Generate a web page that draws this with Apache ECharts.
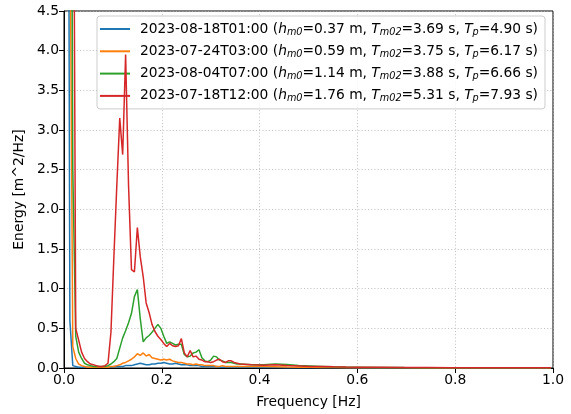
<!DOCTYPE html>
<html>
<head>
<meta charset="utf-8">
<script src="https://cdn.jsdelivr.net/npm/echarts@6/dist/echarts.min.js"></script>
<style>html,body{margin:0;padding:0;background:#fff}#c{width:571px;height:414px}</style>
</head>
<body>
<div id="c"></div>
<script>
// Frequencies [Hz] (0.006 Hz grid to 0.36 Hz, then sparser)
const freqs = [0.006,0.012,0.018,0.024,0.030,0.036,0.042,0.048,0.054,0.060,
  0.066,0.072,0.078,0.084,0.090,0.096,0.102,0.108,0.114,0.120,
  0.126,0.132,0.138,0.144,0.150,0.156,0.162,0.168,0.174,0.180,
  0.186,0.192,0.198,0.204,0.210,0.216,0.222,0.228,0.234,0.240,
  0.246,0.252,0.258,0.264,0.270,0.276,0.282,0.288,0.294,0.300,
  0.306,0.312,0.318,0.324,0.330,0.336,0.342,0.348,0.354,0.360,
  0.384,0.408,0.432,0.456,0.480,0.504,0.528,0.552,0.576,0.600,
  0.648,0.696,0.744,0.792,0.840,0.888,0.936,0.984,0.996];

const blueVals = [14,0.6,0.03,0.02,0.01,0.01,0.01,0.01,0.01,0.01,
  0.01,0.01,0.01,0.01,0.01,0.01,0.02,0.02,0.02,0.02,
  0.03,0.03,0.03,0.04,0.05,0.06,0.05,0.04,0.04,0.05,
  0.05,0.06,0.06,0.07,0.06,0.05,0.05,0.06,0.05,0.04,
  0.04,0.04,0.03,0.03,0.03,0.03,0.02,0.02,0.02,0.02,
  0.02,0.02,0.01,0.01,0.01,0.01,0.01,0.01,0.01,0.01,
  0.008,0.006,0.005,0.004,0.003,0.003,0.002,0.002,0.002,0.001,
  0.001,0.001,0.001,0.001,0.001,0.001,0.001,0.001,0.001];

const orangeVals = [20,6,0.27,0.12,0.05,0.03,0.02,0.01,0.01,0.01,
  0.01,0.01,0.01,0.01,0.01,0.02,0.02,0.03,0.04,0.06,
  0.07,0.09,0.11,0.14,0.18,0.16,0.19,0.15,0.17,0.13,
  0.12,0.11,0.10,0.11,0.10,0.11,0.09,0.08,0.07,0.07,
  0.06,0.05,0.05,0.04,0.05,0.04,0.04,0.03,0.03,0.03,
  0.03,0.02,0.02,0.03,0.02,0.02,0.02,0.02,0.02,0.02,
  0.02,0.018,0.015,0.012,0.010,0.008,0.006,0.005,0.004,0.003,
  0.002,0.002,0.001,0.001,0.001,0.001,0.001,0.001,0.001];

const greenVals = [20,12,2.5,0.4,0.2,0.12,0.06,0.04,0.03,0.02,
  0.02,0.02,0.02,0.02,0.03,0.05,0.08,0.12,0.25,0.38,
  0.47,0.57,0.69,0.90,0.99,0.62,0.33,0.38,0.41,0.45,
  0.50,0.55,0.50,0.40,0.31,0.33,0.31,0.29,0.30,0.30,
  0.17,0.14,0.15,0.19,0.20,0.23,0.13,0.09,0.08,0.10,
  0.15,0.14,0.10,0.09,0.07,0.07,0.07,0.06,0.05,0.05,
  0.04,0.04,0.05,0.045,0.03,0.025,0.02,0.015,0.012,0.010,
  0.007,0.005,0.004,0.003,0.003,0.002,0.002,0.002,0.002];

const redVals = [25,20,9,0.5,0.35,0.2,0.12,0.08,0.05,0.04,
  0.03,0.02,0.02,0.03,0.06,0.45,1.4,2.3,3.15,2.69,
  3.95,2.3,1.24,1.21,1.77,1.40,1.15,0.82,0.70,0.55,
  0.46,0.40,0.36,0.31,0.27,0.31,0.28,0.27,0.28,0.37,
  0.19,0.14,0.22,0.14,0.15,0.11,0.10,0.08,0.08,0.07,
  0.08,0.10,0.11,0.08,0.07,0.09,0.09,0.07,0.06,0.05,
  0.04,0.035,0.04,0.03,0.025,0.02,0.02,0.015,0.012,0.010,
  0.008,0.006,0.005,0.004,0.004,0.003,0.003,0.003,0.003];

const seriesNames = ['2023-08-18T01:00','2023-07-24T03:00','2023-08-04T07:00','2023-07-18T12:00'];
const hm0 = ['0.37','0.59','1.14','1.76'];
const tm02 = ['3.69','3.75','3.88','5.31'];
const tp = ['4.90','6.17','6.66','7.93'];
const colors = ['#1f77b4','#ff7f0e','#2ca02c','#d62728'];
const allVals = [blueVals, orangeVals, greenVals, redVals];

const FONT = 'DejaVu Sans';
const FS = 13.9;
const LFS = 13.8;

const chart = echarts.init(document.getElementById('c'), null, {renderer:'canvas'});

const series = seriesNames.map((n,si)=>({
  name: n,
  type: 'line',
  data: freqs.map((f,i)=>[f, allVals[si][i]]),
  showSymbol: false,
  symbol: 'none',
  clip: true,
  lineStyle: {color: colors[si], width: 1.5},
  itemStyle: {color: colors[si]},
  z: 2 + si,
  animation: false
}));

const legendLabel = {};
seriesNames.forEach((n,i)=>{
  legendLabel[n] = '{f|' + n + ' (}{i|h}{s|m0}{n|=' + hm0[i] + ' m, }{i|T}{s|m02}{n|=' + tm02[i] + ' s, }{i|T}{s|p}{n|=' + tp[i] + ' s)}';
});

chart.setOption({
  animation: false,
  backgroundColor: '#fff',
  textStyle: {fontFamily: FONT},
  grid: {left: 64, right: 18, top: 11, bottom: 46, show: true, borderColor: '#000', borderWidth: 1, backgroundColor: 'transparent'},
  xAxis: {
    type: 'value', min: 0, max: 1, interval: 0.2,
    name: 'Frequency [Hz]', nameLocation: 'middle', nameGap: 27,
    nameTextStyle: {fontFamily: FONT, fontSize: FS, color: '#000'},
    axisLine: {show: true, lineStyle: {color: '#000', width: 1}},
    axisTick: {show: true, inside: false, length: 5, lineStyle: {color: '#000', width: 1}},
    axisLabel: {fontFamily: FONT, fontSize: FS, color: '#000', margin: 5, formatter: v => v.toFixed(1)},
    splitLine: {show: true, lineStyle: {color: '#b0b0b0', width: 0.8, type: [1,2.2]}}
  },
  yAxis: {
    type: 'value', min: 0, max: 4.5, interval: 0.5,
    name: 'Energy [m^2/Hz]', nameLocation: 'middle', nameGap: 32, nameRotate: 90,
    nameTextStyle: {fontFamily: FONT, fontSize: FS, color: '#000'},
    axisLine: {show: true, lineStyle: {color: '#000', width: 1}},
    axisTick: {show: true, inside: false, length: 5, lineStyle: {color: '#000', width: 1}},
    axisLabel: {fontFamily: FONT, fontSize: FS, color: '#000', margin: 5, formatter: v => v.toFixed(1)},
    splitLine: {show: true, lineStyle: {color: '#b0b0b0', width: 0.8, type: [1,2.2]}}
  },
  legend: {
    show: true,
    orient: 'vertical',
    right: 26, top: 16,
    padding: [6, 7, 5, 3],
    itemGap: 7.3,
    itemWidth: 30, itemHeight: 2,
    icon: 'rect',
    backgroundColor: 'rgba(255,255,255,0.8)',
    borderColor: '#cccccc', borderWidth: 1, borderRadius: 3,
    data: seriesNames,
    formatter: name => legendLabel[name],
    textStyle: {
      fontFamily: FONT, fontSize: LFS, color: '#000',
      rich: {
        f: {fontFamily: FONT, fontSize: LFS, color: '#000', lineHeight: 16, verticalAlign: 'middle', padding: [0,0,0,5]},
        n: {fontFamily: FONT, fontSize: LFS, color: '#000', lineHeight: 16, verticalAlign: 'middle'},
        i: {fontFamily: FONT, fontSize: LFS, fontStyle: 'italic', color: '#000', lineHeight: 16, verticalAlign: 'middle'},
        s: {fontFamily: FONT, fontSize: 9.7, fontStyle: 'italic', color: '#000', lineHeight: 10, verticalAlign: 'bottom'}
      }
    }
  },
  series: series
});
</script>
</body>
</html>
